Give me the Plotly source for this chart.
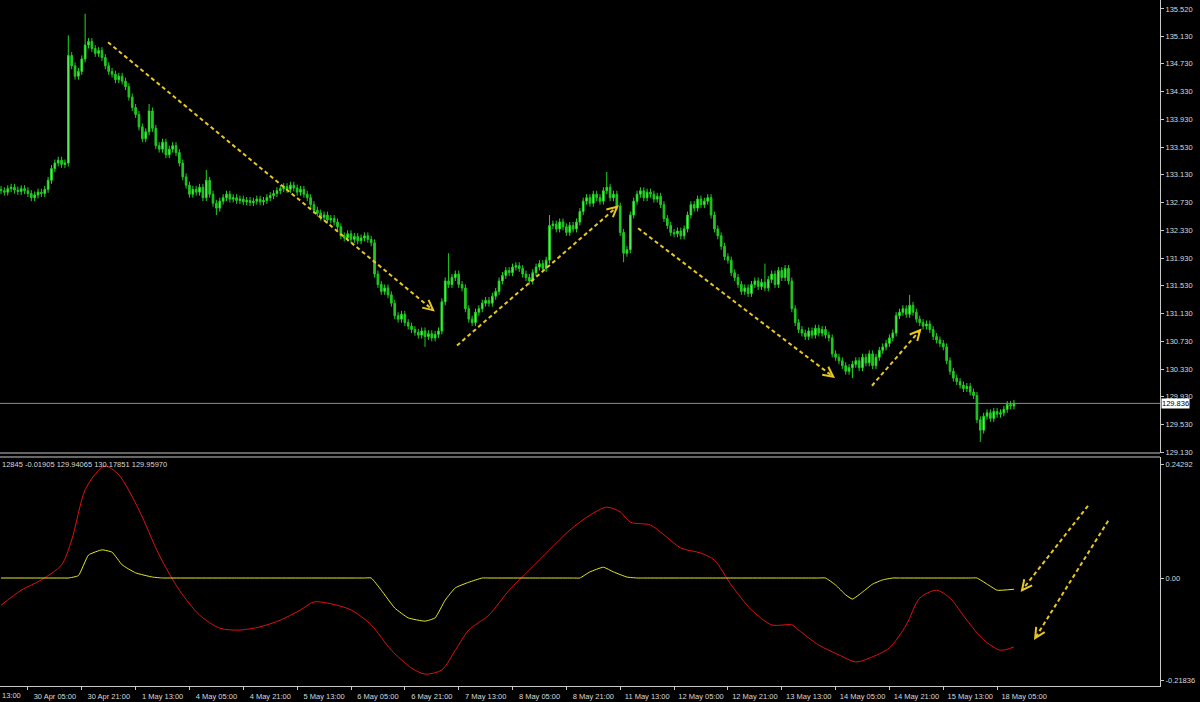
import plotly.graph_objects as go

# ---------------- DATA ----------------
# hourly closes, grouped in segments
close_apr29_may01 = [132.90, 132.88, 132.93, 132.95, 132.91, 132.89, 132.93, 132.90, 132.86, 132.80,
                     132.84, 132.88, 132.86, 132.92, 133.05, 133.22, 133.30, 133.34, 133.28, 133.30,
                     134.85, 134.70, 134.55, 134.62, 134.80, 135.00, 135.05, 134.95, 134.88, 134.92,
                     134.82, 134.70, 134.62, 134.58, 134.50, 134.55, 134.48, 134.40, 134.25, 134.10,
                     134.00, 133.82, 133.65, 133.75, 134.05, 133.80, 133.55, 133.50, 133.60, 133.42,
                     133.50, 133.55, 133.45, 133.30, 133.10, 132.98]
close_may04_may06 = [132.85, 132.92, 132.88, 132.95, 132.80, 133.05, 132.85, 132.72, 132.65,
                     132.75, 132.80, 132.85, 132.78, 132.80, 132.76, 132.78, 132.74, 132.76, 132.73,
                     132.75, 132.78, 132.74, 132.76, 132.80, 132.83, 132.86, 132.90, 132.93, 132.96,
                     132.92, 132.98, 132.94, 132.88, 132.92, 132.85, 132.80, 132.70, 132.62, 132.58,
                     132.52, 132.55, 132.48, 132.50, 132.45, 132.38, 132.25, 132.22, 132.28, 132.20,
                     132.24, 132.18, 132.22, 132.25, 132.20, 132.15]
close_may06_may11 = [131.70, 131.55, 131.45, 131.50, 131.40, 131.28, 131.10, 131.05, 131.12, 131.00,
                     130.95, 130.90, 130.86, 130.82, 130.88, 130.80, 130.84, 130.78, 130.83, 130.88,
                     131.30, 131.60, 131.55, 131.65, 131.70, 131.55, 131.50, 131.20, 131.05, 131.00,
                     131.15, 131.20, 131.28, 131.32, 131.28, 131.38, 131.45, 131.60, 131.68, 131.75,
                     131.72, 131.80, 131.82, 131.78, 131.70, 131.65, 131.60, 131.72, 131.80, 131.85,
                     131.78, 131.90, 132.40, 132.42, 132.35, 132.45, 132.38, 132.30, 132.40, 132.35,
                     132.45, 132.60, 132.75, 132.80, 132.72, 132.85, 132.80, 132.75, 132.90, 132.95,
                     132.80, 132.85, 132.68, 132.30, 132.00, 132.05, 132.55]
close_may11_may14 = [132.75, 132.85, 132.90, 132.80, 132.88, 132.85, 132.78, 132.82, 132.70, 132.50,
                     132.40, 132.30, 132.28, 132.32, 132.25, 132.35, 132.55, 132.70, 132.65, 132.78,
                     132.70, 132.75, 132.80, 132.55, 132.35, 132.25, 132.10, 131.95, 131.90, 131.72,
                     131.65, 131.55, 131.45, 131.50, 131.42, 131.55, 131.60, 131.52, 131.58, 131.50,
                     131.62, 131.70, 131.55, 131.75, 131.65, 131.78, 131.60, 131.20, 131.00, 130.90,
                     130.85, 130.80, 130.88, 130.82, 130.92, 130.85, 130.90, 130.82, 130.78, 130.55,
                     130.50, 130.45]
close_may14_may18 = [130.38, 130.30, 130.35, 130.40, 130.45, 130.35, 130.50, 130.42, 130.55, 130.38,
                     130.50, 130.60, 130.65, 130.70, 130.78, 130.85, 131.10, 131.15, 131.20, 131.12,
                     131.25, 131.15, 131.05, 131.00, 130.95, 130.98, 130.90, 130.80, 130.75, 130.70,
                     130.65, 130.45, 130.30, 130.20, 130.15, 130.10, 130.05, 130.08, 130.00, 129.95,
                     129.60, 129.45, 129.65, 129.70, 129.62, 129.72, 129.68, 129.70, 129.75, 129.82,
                     129.80, 129.836]
first_open = 132.92
# notable wick extremes (bar index -> price)
wick_highs = {20: 135.14, 25: 135.45, 44: 134.15, 61: 133.20, 133: 132.00, 163: 132.55,
              180: 133.17, 227: 131.85, 270: 131.40}
wick_lows = {64: 132.55, 126: 130.65, 185: 131.87, 253: 130.20, 291: 129.28}
last_price = 129.836

# x-axis time labels (bar index of each label)
time_idx = [8, 24, 40, 56, 72, 88, 104, 120, 136, 152, 168, 184, 200, 216, 232, 248, 264, 280, 296]
time_txt = ["30 Apr 05:00", "30 Apr 21:00", "1 May 13:00", "4 May 05:00", "4 May 21:00",
            "5 May 13:00", "6 May 05:00", "6 May 21:00", "7 May 13:00", "8 May 05:00",
            "8 May 21:00", "11 May 13:00", "12 May 05:00", "12 May 21:00", "13 May 13:00",
            "14 May 05:00", "14 May 21:00", "15 May 13:00", "18 May 05:00"]
price_ticks = [129.130, 129.530, 129.930, 130.330, 130.730, 131.130, 131.530, 131.930, 132.330,
               132.730, 133.130, 133.530, 133.930, 134.330, 134.730, 135.130, 135.520]
ind_ticks = [0.24292, 0.0, -0.21836]
ind_ticktext = ["0.24292", "0.00", "-0.21836"]

# indicator (red and yellow lines), sampled bars
red_idx = [0, 6, 12, 18, 21, 25, 29, 31, 35, 41, 47, 53, 59, 65, 71, 77, 83, 89, 93, 98, 104, 110,
           116, 122, 126, 131, 135, 139, 145, 151, 157, 163, 169, 175, 180, 184, 187, 193, 197, 202,
           208, 212, 217, 223, 229, 235, 237, 243, 249, 254, 258, 264, 269, 273, 278, 282, 287,
           292, 297, 301]
red_val = [-0.058, -0.026, -0.004, 0.028, 0.081, 0.188, 0.230, 0.239, 0.220, 0.145, 0.049, -0.026,
           -0.079, -0.107, -0.111, -0.104, -0.090, -0.068, -0.051, -0.055, -0.068, -0.100, -0.154,
           -0.192, -0.205, -0.196, -0.154, -0.111, -0.079, -0.026, 0.017, 0.060, 0.102, 0.134,
           0.151, 0.141, 0.119, 0.113, 0.092, 0.064, 0.053, 0.038, -0.015, -0.068, -0.100, -0.100,
           -0.111, -0.143, -0.164, -0.179, -0.171, -0.149, -0.100, -0.043, -0.026, -0.043, -0.090,
           -0.132, -0.154, -0.147]
yel_idx = [0, 10, 18, 20, 23, 26, 30, 33, 36, 40, 45, 48, 50, 70, 90, 106, 108, 110, 113, 117, 121,
           126, 129, 132, 135, 139, 143, 145, 160, 170, 172, 175, 179, 182, 186, 189, 191, 210, 230,
           243, 245, 248, 251, 253, 256, 259, 262, 265, 267, 280, 288, 290, 293, 296, 301]
yel_val = [0, 0, 0, 0, 0.005, 0.049, 0.060, 0.055, 0.028, 0.011, 0.002, 0, 0, 0, 0, 0, 0, 0,
           -0.026, -0.064, -0.085, -0.092, -0.085, -0.047, -0.021, -0.009, 0, 0, 0, 0, 0, 0.013,
           0.023, 0.013, 0.002, 0, 0, 0, 0, 0, 0, -0.015, -0.036, -0.045, -0.030, -0.013, -0.004,
           0, 0, 0, 0, 0, -0.013, -0.026, -0.024]
ind_header = "12845 -0.01905 129.94065 130.17851 129.95970"

# hand-drawn arrows (start, end) in (bar, value)
price_arrows = [((31.8, 135.04), (128.4, 131.18)), ((135.5, 130.67), (183.1, 132.67)),
                ((189.3, 132.36), (247.3, 130.22)), ((258.8, 130.09), (273.1, 130.89))]
ind_arrows = [((323.0, 0.154), (303.4, -0.026)), ((329.0, 0.122), (307.3, -0.128))]

# ---------------- BUILD ----------------
closes = close_apr29_may01 + close_may04_may06 + close_may06_may11 + close_may11_may14 + close_may14_may18
n = len(closes)
bars = list(range(n))
opens = [first_open] + closes[:-1]
highs = [wick_highs.get(i, max(o, c) + 0.05) for i, (o, c) in enumerate(zip(opens, closes))]
lows = [wick_lows.get(i, min(o, c) - 0.05) for i, (o, c) in enumerate(zip(opens, closes))]

W, H = 1160, 686
XR = [-0.3, 344.4]
PR = [129.121, 135.649]
IR = [-0.2303, 0.2580]
PD = [(H - 453) / H, 1.0]
ID = [0.0, (H - 457) / H]

FONT = "Liberation Sans"
AX_COL = "#c8c8c8"
TXT_COL = "#d8d8d8"
ARROW_COL = "#e8c81e"

fig = go.Figure()
fig.add_trace(go.Candlestick(
    x=bars, open=opens, high=highs, low=lows, close=closes,
    increasing=dict(line=dict(color="#22d822", width=1), fillcolor="#74f774"),
    decreasing=dict(line=dict(color="#22c822", width=1), fillcolor="#22c822"),
    whiskerwidth=0, xaxis="x", yaxis="y", showlegend=False, hoverinfo="skip"))
fig.add_trace(go.Scatter(x=red_idx, y=red_val, mode="lines", line=dict(color="#e01010", width=1,
                         shape="spline", smoothing=0.8), xaxis="x2", yaxis="y2", showlegend=False))
fig.add_trace(go.Scatter(x=yel_idx, y=yel_val, mode="lines", line=dict(color="#e8e820", width=1,
                         shape="spline", smoothing=0.4), xaxis="x2", yaxis="y2", showlegend=False))


def to_px(ix, v, panel):
    d, r = (PD, PR) if panel == "price" else (ID, IR)
    px = (ix - XR[0]) / (XR[1] - XR[0]) * W
    py = (d[0] + (v - r[0]) / (r[1] - r[0]) * (d[1] - d[0])) * H
    return px, py


shapes = []
for panel, arrows in (("price", price_arrows), ("ind", ind_arrows)):
    for (s, e) in arrows:
        x0, y0 = to_px(s[0], s[1], panel)
        x1, y1 = to_px(e[0], e[1], panel)
        shapes.append(dict(type="line", xref="paper", yref="paper", x0=x0 / W, y0=y0 / H,
                           x1=x1 / W, y1=y1 / H, line=dict(color=ARROW_COL, width=2, dash="4px,3px")))
        dx, dy = x1 - x0, y1 - y0
        L = (dx * dx + dy * dy) ** 0.5
        ux, uy = dx / L, dy / L
        nx, ny = -uy, ux
        bx, by = x1 - 10 * ux, y1 - 10 * uy
        w1 = (bx + 5 * nx, by + 5 * ny)
        w2 = (bx - 5 * nx, by - 5 * ny)
        path = "M %.5f,%.5f L %.5f,%.5f L %.5f,%.5f" % (w1[0] / W, w1[1] / H, x1 / W, y1 / H,
                                                       w2[0] / W, w2[1] / H)
        shapes.append(dict(type="path", xref="paper", yref="paper", path=path,
                           line=dict(color=ARROW_COL, width=2)))

# current price line
shapes.append(dict(type="line", xref="paper", yref="y", x0=0, x1=1, y0=last_price, y1=last_price,
                   line=dict(color="#8c8c8c", width=1)))
# panel separators
for ypx in (453, 457):
    shapes.append(dict(type="line", xref="paper", yref="paper", x0=0, x1=1,
                       y0=(H - ypx) / H, y1=(H - ypx) / H, line=dict(color=AX_COL, width=1)))

annotations = [
    dict(xref="paper", yref="y", x=1, y=last_price, xanchor="left", yanchor="middle", xshift=1,
         text="129.836", showarrow=False, bgcolor="#ffffff", borderpad=0,
         font=dict(family=FONT, size=7.5, color="#000000")),
    dict(xref="paper", yref="paper", x=0, y=(H - 458) / H, xanchor="left", yanchor="top",
         text=ind_header, showarrow=False, font=dict(family=FONT, size=7.5, color=TXT_COL)),
    dict(xref="paper", yref="paper", x=0, y=0, xanchor="left", yanchor="top", yshift=-3,
         text="13:00", showarrow=False, font=dict(family=FONT, size=7.5, color=TXT_COL)),
]

fig.update_layout(
    width=1200, height=702,
    margin=dict(l=0, r=40, t=0, b=16),
    paper_bgcolor="#000000", plot_bgcolor="#000000",
    showlegend=False, hovermode=False,
    shapes=shapes, annotations=annotations,
    xaxis=dict(domain=[0, 1], anchor="y", range=XR, showgrid=False, zeroline=False,
               showticklabels=False, ticks="", showline=False, rangeslider=dict(visible=False),
               matches="x2"),
    xaxis2=dict(domain=[0, 1], anchor="y2", range=XR, showgrid=False, zeroline=False,
                tickvals=time_idx, ticktext=time_txt, ticks="outside", ticklen=3,
                tickcolor=AX_COL, showline=True, linecolor=AX_COL, linewidth=1,
                ticklabelshift=27, ticklabelstandoff=0,
                tickfont=dict(family=FONT, size=7.5, color=TXT_COL)),
    yaxis=dict(domain=PD, anchor="x", range=PR, side="right", showgrid=False, zeroline=False,
               tickvals=price_ticks, ticktext=["%.3f" % v for v in price_ticks],
               ticks="outside", ticklen=3, tickcolor=AX_COL, showline=True, linecolor=AX_COL,
               linewidth=1, tickfont=dict(family=FONT, size=7.5, color=TXT_COL)),
    yaxis2=dict(domain=ID, anchor="x2", range=IR, side="right", showgrid=False, zeroline=False,
                tickvals=ind_ticks, ticktext=ind_ticktext,
                ticks="outside", ticklen=3, tickcolor=AX_COL, showline=True, linecolor=AX_COL,
                linewidth=1, tickfont=dict(family=FONT, size=7.5, color=TXT_COL)),
)

fig.write_html("out.html", config={"displayModeBar": False, "staticPlot": True},
               post_script="document.body.style.margin='0';document.body.style.overflow='hidden';"
                           "document.body.style.background='#000';")
